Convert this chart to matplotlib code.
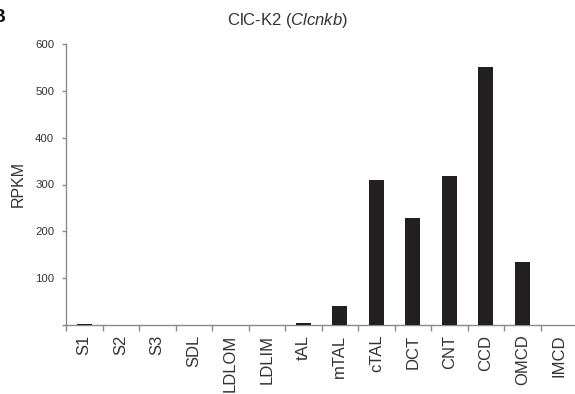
import matplotlib
matplotlib.use("Agg")
import matplotlib.pyplot as plt
from matplotlib.ticker import FixedLocator, NullFormatter

plt.rcParams["font.family"] = ["Liberation Sans", "DejaVu Sans"]
plt.rcParams["mathtext.fontset"] = "custom"
plt.rcParams["mathtext.rm"] = "Liberation Sans"
plt.rcParams["mathtext.it"] = "Liberation Sans:italic"

segments = ["S1", "S2", "S3", "SDL", "LDLOM", "LDLIM", "tAL", "mTAL",
            "cTAL", "DCT", "CNT", "CCD", "OMCD", "IMCD"]
rpkm = [3, 1, 0, 0, 0, 0, 5, 40, 309, 228, 319, 550, 135, 1]
yticks = [0, 100, 200, 300, 400, 500, 600]
ytick_labels = ["", "100", "200", "300", "400", "500", "600"]

W, H = 575, 394
fig = plt.figure(figsize=(W / 100, H / 100), dpi=100)
ax = fig.add_axes([66 / W, 1 - 325 / H, 511 / W, (325 - 44) / H])

text_col = "#333333"
spine_col = "#8a8a8a"

x = list(range(len(segments)))
ax.bar(x, rpkm, width=0.41, color="#231f20", zorder=3)

ax.set_xlim(-0.5, len(segments) - 0.5)
ax.set_ylim(0, 600)

for side in ("top", "right"):
    ax.spines[side].set_visible(False)
for side in ("left", "bottom"):
    ax.spines[side].set_color(spine_col)
    ax.spines[side].set_linewidth(1.0)

# boundary ticks between segments, labels centred under bars
ax.xaxis.set_major_locator(FixedLocator([i - 0.5 for i in range(len(segments) + 1)]))
ax.xaxis.set_major_formatter(NullFormatter())
ax.xaxis.set_minor_locator(FixedLocator(x))
ax.set_xticklabels(segments, minor=True, rotation=90, fontsize=12, color=text_col)
ax.tick_params(axis="x", which="major", direction="out", length=4, width=1, color=spine_col)
ax.tick_params(axis="x", which="minor", length=0, pad=7)

ax.set_yticks(yticks)
ax.set_yticklabels(ytick_labels, fontsize=8.2, color=text_col)
ax.tick_params(axis="y", direction="out", length=3, width=1, color=spine_col, pad=5.5)

fig.text(18 / W, 1 - 184 / H, "RPKM", rotation=90, ha="center", va="center",
         fontsize=11.5, color=text_col)
fig.text(0.5, 1 - 21 / H, r"ClC-K2 ($\mathit{Clcnkb}$)", ha="center", va="center",
         fontsize=12, color=text_col)
fig.text(5.5 / W, 1 - 22 / H, "B", ha="right", va="baseline",
         fontsize=14, fontweight="bold", color="#111111")

fig.savefig("out.png", dpi=100)
